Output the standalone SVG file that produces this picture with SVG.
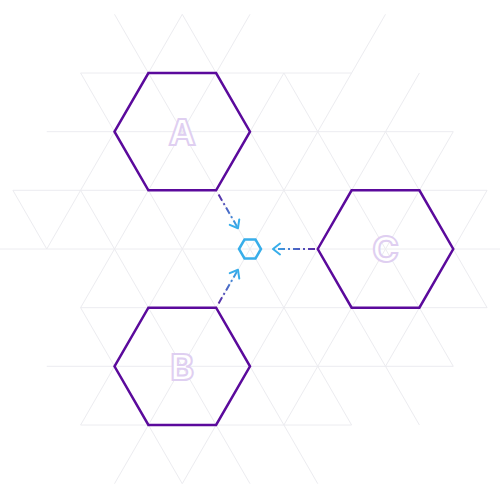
<svg xmlns="http://www.w3.org/2000/svg" width="500" height="500" viewBox="0 0 500 500">
  <style>
    .grid { stroke: #ececf0; stroke-width: 1; fill: none; }
    .hex { fill: none; stroke: #5b0a9c; stroke-width: 2.5; stroke-linejoin: miter; }
    .hub { fill: none; stroke: #38aeea; stroke-width: 2.5; }
    .label { font-family: Inter, "Liberation Sans", sans-serif; font-weight: 700; font-size: 36px; fill: #ffffff; stroke: #dfcff1; stroke-width: 2; text-anchor: middle; }
    .edge { fill: none; stroke-width: 2; stroke-dasharray: 7 3 2 3; }
  </style>
  <defs>
    <marker id="arrow" viewBox="-9 -7 11 14" refX="0" refY="0" markerWidth="11" markerHeight="14" markerUnits="userSpaceOnUse" orient="auto">
      <path d="M -7 -5.5 L 0 0 L -7 5.5" fill="none" stroke="#38aeea" stroke-width="2" stroke-linecap="round" stroke-linejoin="round"/>
    </marker>
    <linearGradient id="gA" gradientUnits="userSpaceOnUse" x1="218.6" y1="194.6" x2="238" y2="228.2">
      <stop offset="0" stop-color="#5a2aa6"/>
      <stop offset="1" stop-color="#38aeea"/>
    </linearGradient>
    <linearGradient id="gB" gradientUnits="userSpaceOnUse" x1="218.6" y1="303.4" x2="238" y2="269.8">
      <stop offset="0" stop-color="#5a2aa6"/>
      <stop offset="1" stop-color="#38aeea"/>
    </linearGradient>
    <linearGradient id="gC" gradientUnits="userSpaceOnUse" x1="315" y1="249" x2="273" y2="249">
      <stop offset="0" stop-color="#5a2aa6"/>
      <stop offset="1" stop-color="#38aeea"/>
    </linearGradient>
  </defs>

  <rect width="500" height="500" fill="#ffffff"/>

  <g id="grid" class="grid">
    <path d="M80.6 73H351.6 M46.75 131.7H453.25 M12.9 190.3H487.1 M0 249H500 M80.6 307.7H487.1 M46.75 366.3H453.25 M80.6 425H351.6"/>
    <path d="M114.5 14.3L148.4 73 M182.25 14.3L148.4 73 M182.25 14.3L216.1 73 M250 14.3L216.1 73 M385.5 14.3L351.6 73"/>
    <path d="M80.6 73L114.5 131.7 M148.4 73L182.25 131.7 M216.1 73L182.25 131.7 M283.9 73L250 131.7 M283.9 73L317.75 131.7 M351.6 73L317.75 131.7 M419.4 73L385.5 131.7"/>
    <path d="M114.5 131.7L80.6 190.3 M182.25 131.7L216.1 190.3 M182.25 131.7L148.4 190.3 M250 131.7L283.9 190.3 M317.75 131.7L283.9 190.3 M317.75 131.7L351.6 190.3 M385.5 131.7L351.6 190.3 M385.5 131.7L419.4 190.3 M453.25 131.7L419.4 190.3"/>
    <path d="M12.9 190.3L46.75 249 M80.6 190.3L46.75 249 M80.6 190.3L114.5 249 M148.4 190.3L114.5 249 M148.4 190.3L182.25 249 M216.1 190.3L182.25 249 M216.1 190.3L250 249 M283.9 190.3L250 249 M283.9 190.3L317.75 249 M351.6 190.3L385.5 249 M419.4 190.3L385.5 249 M487.1 190.3L453.25 249"/>
    <path d="M114.5 249L80.6 307.7 M114.5 249L148.4 307.7 M182.25 249L148.4 307.7 M182.25 249L216.1 307.7 M250 249L216.1 307.7 M250 249L283.9 307.7 M317.75 249L283.9 307.7 M385.5 249L351.6 307.7 M385.5 249L419.4 307.7 M453.25 249L487.1 307.7"/>
    <path d="M80.6 307.7L114.5 366.3 M148.4 307.7L182.25 366.3 M216.1 307.7L182.25 366.3 M283.9 307.7L250 366.3 M283.9 307.7L317.75 366.3 M351.6 307.7L317.75 366.3 M351.6 307.7L385.5 366.3 M419.4 307.7L385.5 366.3 M419.4 307.7L453.25 366.3"/>
    <path d="M114.5 366.3L80.6 425 M182.25 366.3L148.4 425 M182.25 366.3L216.1 425 M250 366.3L283.9 425 M317.75 366.3L283.9 425 M317.75 366.3L351.6 425 M385.5 366.3L419.4 425"/>
    <path d="M148.4 425L114.5 483.7 M148.4 425L182.25 483.7 M216.1 425L182.25 483.7 M216.1 425L250 483.7 M283.9 425L317.75 483.7"/>
  </g>

  <g id="connectors">
    <path class="edge" stroke="url(#gA)" d="M218.6 194.6L238 228.2" marker-end="url(#arrow)"/>
    <path class="edge" stroke="url(#gB)" d="M218.6 303.4L238 269.8" marker-end="url(#arrow)"/>
    <path class="edge" stroke="url(#gC)" d="M315 249L273 249" marker-end="url(#arrow)"/>
  </g>

  <g id="node-A">
    <polygon class="hex" points="114.5,131.7 148.4,73 216.1,73 250,131.7 216.1,190.3 148.4,190.3"/>
    <text class="label" x="182.25" y="144.5">A</text>
  </g>
  <g id="node-B">
    <polygon class="hex" points="114.5,366.3 148.4,307.7 216.1,307.7 250,366.3 216.1,425 148.4,425"/>
    <text class="label" x="182.25" y="380">B</text>
  </g>
  <g id="node-C">
    <polygon class="hex" points="317.75,249 351.6,190.3 419.4,190.3 453.25,249 419.4,307.7 351.6,307.7"/>
    <text class="label" x="385.5" y="262">C</text>
  </g>
  <g id="node-hub">
    <polygon class="hub" points="239,249 244.5,239.5 255.5,239.5 261,249 255.5,258.5 244.5,258.5"/>
  </g>
</svg>
